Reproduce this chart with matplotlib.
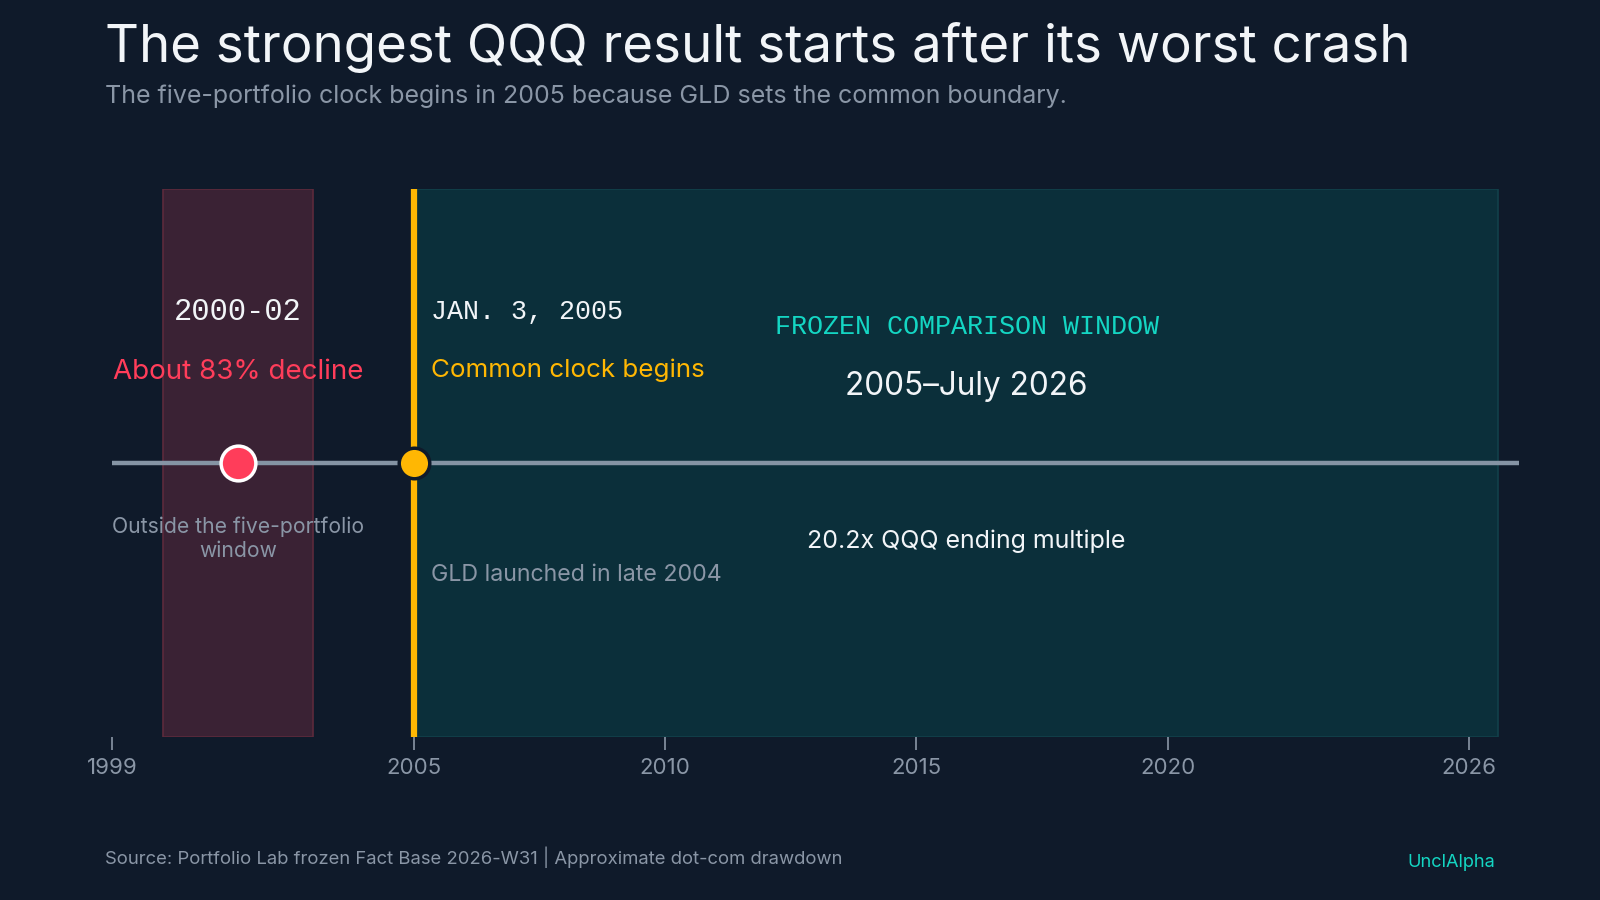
#!/usr/bin/env python3
"""
Timeline: the QQQ comparison window starts after the dot-com crash
"""

import matplotlib
matplotlib.use('Agg')
import matplotlib.pyplot as plt

# Timeline data
tick_years = [1999, 2005, 2010, 2015, 2020, 2026]
x_range = [1999, 2027]
crash_span = [2000, 2003]
crash_point = 2001.5
crash_decline_pct = 83
clock_start = 2005
window_span = [2005, 2026.58]
window_label_x = 2016
qqq_multiple = 20.2

BG = '#0f1a2a'
GRID_LINE = '#8594a4'
MUTED = '#8a96a6'
WHITE = '#f2f5f8'
RED = '#ff3d5a'
YELLOW = '#ffb703'
CYAN = '#14d6c3'

SANS = ['Inter', 'DejaVu Sans']
MONO = ['Liberation Mono', 'DejaVu Sans Mono']


def main():
    plt.rcParams['font.family'] = SANS
    fig = plt.figure(figsize=(16, 9), dpi=100, facecolor=BG)
    ax = fig.add_axes([0.0702, 0.1814, 0.8794, 0.6088])
    ax.set_facecolor(BG)
    ax.set_xlim(*x_range)
    ax.set_ylim(0, 1)

    # Shaded spans
    ax.axvspan(crash_span[0], crash_span[1], color='#3a2234', ec='#5c2a3c', lw=1.2, zorder=1)
    ax.axvspan(window_span[0], window_span[1], color='#0b2f3a', ec='#12404a', lw=1.2, zorder=1)
    ax.axvline(clock_start, color=YELLOW, lw=4.5, zorder=3)

    # Main timeline
    ax.plot(x_range, [0.5, 0.5], color=GRID_LINE, lw=3.2, solid_capstyle='butt', zorder=2)
    ax.plot([crash_point], [0.5], 'o', ms=25, mfc=RED, mec='white', mew=2.5, zorder=5)
    ax.plot([clock_start], [0.5], 'o', ms=22, mfc=YELLOW, mec=BG, mew=2.5, zorder=5)

    # Crash annotations
    ax.text(crash_point, 0.776, '2000-02', ha='center', va='center', color=WHITE,
            fontsize=22, family=MONO)
    ax.text(crash_point, 0.665, f'About {crash_decline_pct}% decline', ha='center', va='center',
            color=RED, fontsize=20)
    ax.text(crash_point, 0.362, 'Outside the five-portfolio\nwindow', ha='center', va='center',
            color=MUTED, fontsize=15.2, linespacing=1.25)

    # Clock start annotations
    ax.text(clock_start + 0.35, 0.776, 'JAN. 3, 2005', ha='left', va='center', color=WHITE,
            fontsize=19.3, family=MONO)
    ax.text(clock_start + 0.35, 0.669, 'Common clock begins', ha='left', va='center',
            color=YELLOW, fontsize=18.7)
    ax.text(clock_start + 0.35, 0.296, 'GLD launched in late 2004', ha='left', va='center',
            color=MUTED, fontsize=16.7)

    # Window annotations
    ax.text(window_label_x, 0.747, 'FROZEN COMPARISON WINDOW', ha='center', va='center',
            color=CYAN, fontsize=19.3, family=MONO)
    ax.text(window_label_x, 0.64, '2005\u2013July 2026', ha='center', va='center',
            color=WHITE, fontsize=22.7)
    ax.text(window_label_x, 0.356, f'{qqq_multiple}x QQQ ending multiple', ha='center',
            va='center', color=WHITE, fontsize=18)

    # Axis styling
    for s in ax.spines.values():
        s.set_visible(False)
    ax.set_yticks([])
    ax.set_xticks(tick_years)
    ax.set_xticklabels([str(y) for y in tick_years])
    ax.tick_params(axis='x', colors=MUTED, labelcolor=MUTED, labelsize=16,
                   length=9, width=1.2, pad=6)

    # Titles and footer
    fig.text(0.0657, 0.947, 'The strongest QQQ result starts after its worst crash',
             ha='left', va='center', color=WHITE, fontsize=38)
    fig.text(0.0657, 0.893, 'The five-portfolio clock begins in 2005 because GLD sets the common boundary.',
             ha='left', va='center', color=MUTED, fontsize=18)
    fig.text(0.0657, 0.047, 'Source: Portfolio Lab frozen Fact Base 2026-W31 | Approximate dot-com drawdown',
             ha='left', va='center', color=MUTED, fontsize=13.3)
    fig.text(0.9345, 0.042, 'UnclAlpha', ha='right', va='center', color=CYAN, fontsize=13.1)

    fig.savefig('out.png', dpi=100, facecolor=BG)
    plt.close(fig)


if __name__ == "__main__":
    main()
